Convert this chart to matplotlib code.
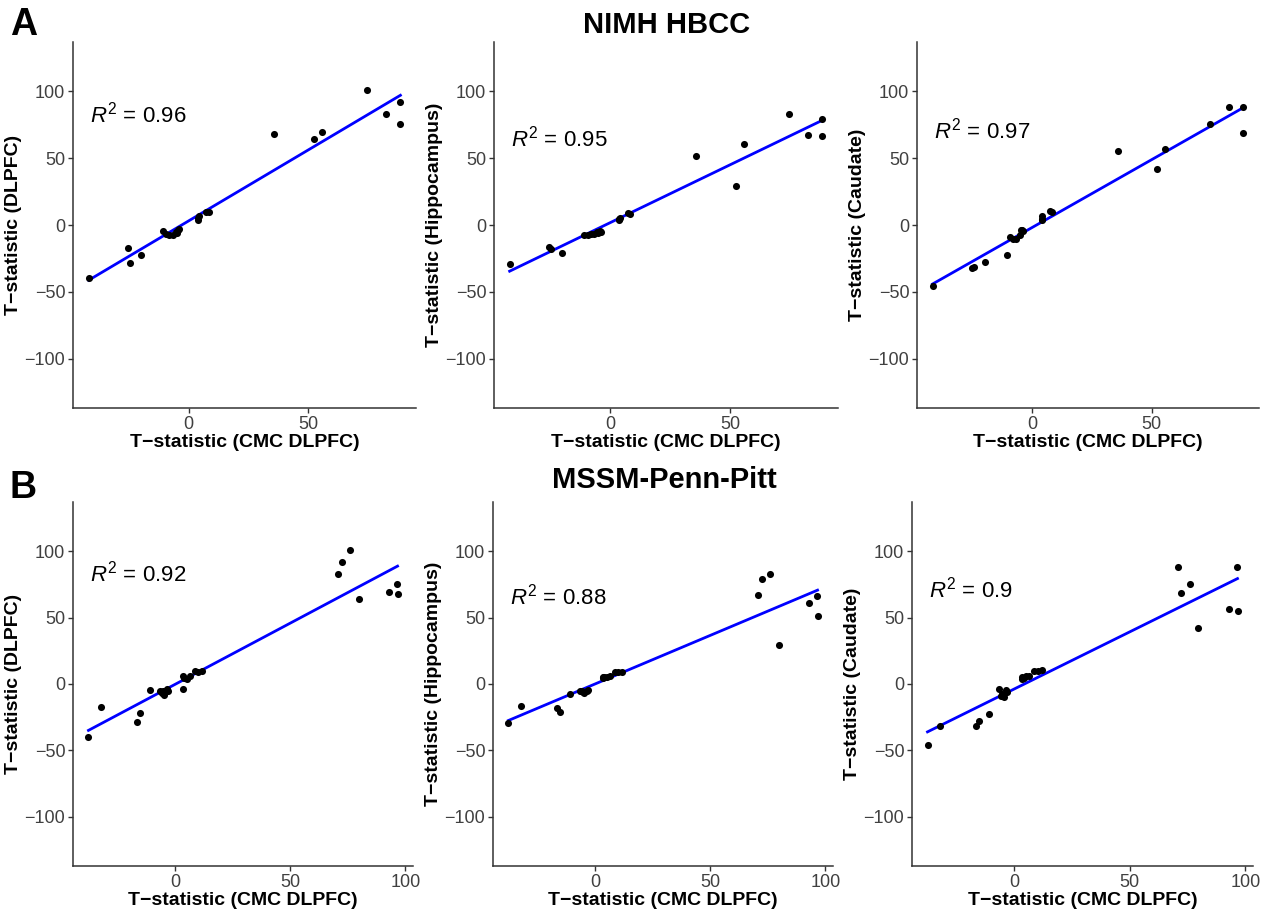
import numpy as np
import matplotlib
matplotlib.use("Agg")
import matplotlib.pyplot as plt

plt.rcParams['font.family'] = ['Liberation Sans', 'DejaVu Sans']
plt.rcParams['mathtext.fontset'] = 'custom'
plt.rcParams['mathtext.rm'] = 'Liberation Sans'
plt.rcParams['mathtext.it'] = 'Liberation Sans:italic'

# NIMH HBCC: CMC DLPFC t-statistics (shared x) and region t-statistics
x_hbcc = [-41.9, -25.4, -24.6, -20.1, -10.8, -9.4, -8.1, -6.7, -5.3, -4.4, -3.9, -4.9,
          3.9, 4.2, 3.9, 7.4, 8.3, 35.8, 52.4, 55.7, 74.4, 82.6, 88.2, 88.5]
y_hbcc_dlpfc = [-39.9, -17.0, -28.4, -22.2, -4.2, -7.0, -7.2, -7.5, -5.5, -4.0, -3.0, -6.0,
                4.0, 6.5, 5.2, 10.0, 9.7, 67.9, 64.1, 69.6, 100.8, 82.8, 92.1, 75.3]
y_hbcc_hippo = [-29.4, -16.2, -18.0, -20.7, -7.7, -7.2, -6.7, -6.5, -5.5, -4.7, -5.0, -6.0,
                4.7, 5.5, 3.5, 9.2, 8.5, 51.6, 29.2, 60.8, 83.3, 67.3, 79.6, 66.3]
y_hbcc_caudate = [-45.9, -31.9, -31.4, -27.7, -22.4, -9.2, -10.2, -10.5, -7.2, -3.5, -4.2, -4.0,
                  6.5, 4.7, 4.0, 10.5, 9.5, 55.4, 41.9, 57.1, 75.6, 88.3, 88.5, 68.6]

# MSSM-Penn-Pitt
x_mssm = [-37.6, -32.3, -16.5, -15.2, -10.9, -6.6, -5.6, -4.6, -3.7, -3.0, -5.2, 3.4, 3.4,
          4.0, 5.2, 6.3, 8.5, 10.1, 11.8, 70.7, 72.3, 76.0, 79.7, 93.0, 96.4, 96.6]
y_mssm_dlpfc = [-40.0, -17.0, -28.3, -22.0, -4.5, -5.0, -7.0, -8.0, -4.0, -5.0, -5.5, -3.5, 6.0,
                4.3, 3.8, 5.8, 9.5, 8.8, 10.0, 82.6, 92.1, 100.6, 63.8, 69.6, 75.3, 67.8]
y_mssm_hippo = [-29.5, -16.3, -18.0, -20.8, -7.8, -5.0, -5.5, -7.0, -5.0, -4.3, -6.3, 4.5, 5.0,
                5.0, 5.0, 6.0, 8.8, 9.3, 8.8, 67.1, 79.1, 83.1, 29.0, 60.8, 66.1, 51.3]
y_mssm_caudate = [-46.0, -31.8, -31.5, -27.8, -22.5, -3.5, -8.8, -10.0, -4.3, -6.3, -7.5, 3.5, 5.5,
                  4.5, 6.0, 5.8, 10.0, 10.0, 10.5, 88.1, 68.6, 75.3, 42.0, 56.8, 88.4, 55.3]

regions = ["DLPFC", "Hippocampus", "Caudate"]
r2_hbcc = ["0.96", "0.95", "0.97"]
r2_mssm = ["0.92", "0.88", "0.9"]
r2_y_hbcc = [83, 65, 71]
r2_y_mssm = [83, 66, 71]

W, H = 1263, 909
fig = plt.figure(figsize=(W / 100, H / 100), dpi=100)

# axes boxes in pixels: left, right, top, bottom
boxes_top = [(73, 416, 42, 408), (494, 838, 42, 408), (917, 1259, 42, 408)]
boxes_bot = [(73, 413, 502, 866), (493, 833, 502, 866), (912, 1253, 502, 866)]


def make_ax(box):
    l, r, t, b = box
    return fig.add_axes([l / W, 1 - b / H, (r - l) / W, (b - t) / H])


def panel(ax, x, y, region, r2, r2y, xticks):
    x = np.array(x)
    y = np.array(y)
    ax.scatter(x, y, s=26, color="black", zorder=3, linewidths=0)
    k, c = np.polyfit(x, y, 1)
    xs = np.array([x.min(), x.max()])
    ax.plot(xs, k * xs + c, color="#0000FF", lw=2, zorder=2)
    pad = 0.05 * (x.max() - x.min())
    ax.set_xlim(x.min() - pad, x.max() + pad)
    ax.set_ylim(-137, 137)
    ax.set_yticks([-100, -50, 0, 50, 100])
    ax.set_xticks(xticks)
    for s in ["top", "right"]:
        ax.spines[s].set_visible(False)
    for s in ["left", "bottom"]:
        ax.spines[s].set_color("#333333")
        ax.spines[s].set_linewidth(1.1)
    ax.tick_params(colors="#333333", labelcolor="#404040", labelsize=13,
                   length=3.5, width=1, pad=2)
    ax.set_xlabel("T\u2212statistic (CMC DLPFC)", fontsize=14, fontweight="bold", labelpad=1)
    ax.set_ylabel("T\u2212statistic (%s)" % region, fontsize=14, fontweight="bold", labelpad=2)
    ax.text(x.min() + 0.5, r2y, "$R^2$ = " + r2, fontsize=16, va="center", ha="left")


for i in range(3):
    ys = [y_hbcc_dlpfc, y_hbcc_hippo, y_hbcc_caudate][i]
    panel(make_ax(boxes_top[i]), x_hbcc, ys, regions[i], r2_hbcc[i], r2_y_hbcc[i], [0, 50])
    ys = [y_mssm_dlpfc, y_mssm_hippo, y_mssm_caudate][i]
    panel(make_ax(boxes_bot[i]), x_mssm, ys, regions[i], r2_mssm[i], r2_y_mssm[i], [0, 50, 100])

fig.text(667 / W, 1 - 25 / H, "NIMH HBCC", fontsize=21, fontweight="bold", ha="center", va="center")
fig.text(664 / W, 1 - 480 / H, "MSSM-Penn-Pitt", fontsize=21, fontweight="bold", ha="center", va="center")
fig.text(10 / W, 1 - 25 / H, "A", fontsize=27, fontweight="bold", ha="left", va="center")
fig.text(10 / W, 1 - 488 / H, "B", fontsize=27, fontweight="bold", ha="left", va="center")

fig.savefig("out.png", dpi=100, facecolor="white")
